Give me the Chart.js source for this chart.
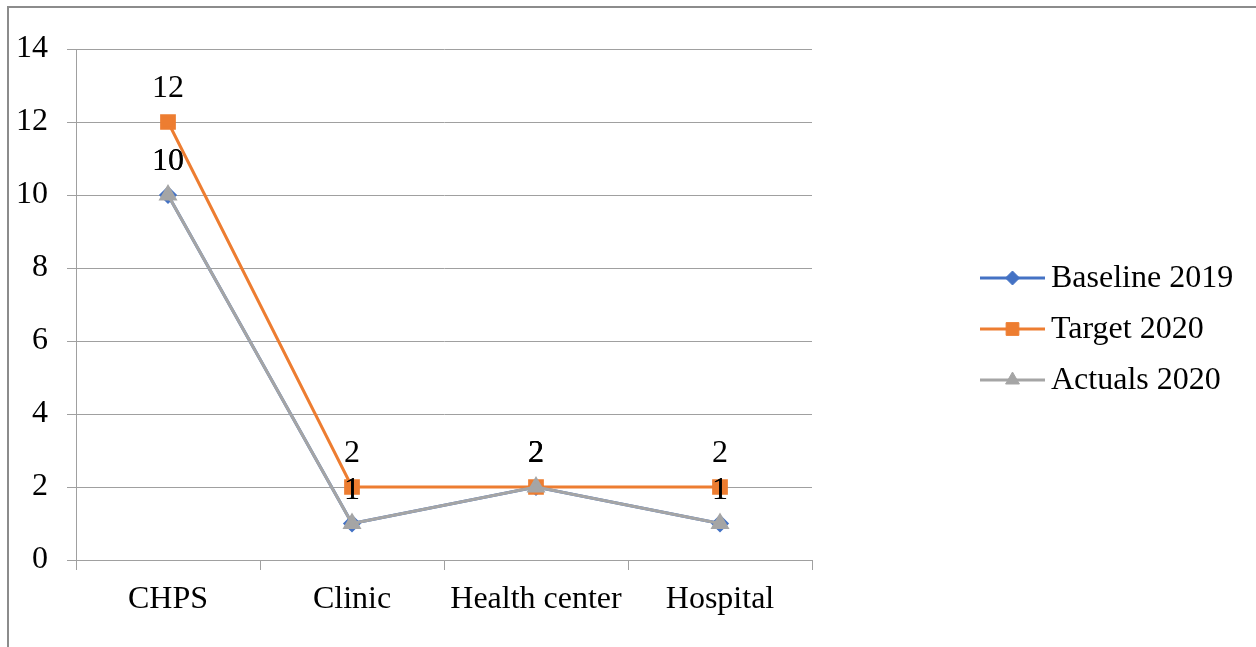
<!DOCTYPE html>
<html lang="en">
<head>
    <meta charset="UTF-8">
    <title>Health facilities</title>
    <script src="https://cdn.jsdelivr.net/npm/chart.js"></script>
    <style>
        body { margin: 0; background: #fff; overflow: hidden; }
        #frame { position: absolute; left: 7px; top: 6px; width: 1400px; height: 800px; border: 2px solid #8c8c8c; }
        #wrap { position: absolute; left: 0; top: 0; width: 1256px; height: 647px; }
    </style>
</head>
<body>
    <div id="frame"></div>
    <div id="wrap"><canvas id="lineChart"></canvas></div>

    <script>
        const categories = ['CHPS', 'Clinic', 'Health center', 'Hospital'];
        const baseline2019 = [10, 1, 2, 1];
        const target2020 = [12, 2, 2, 2];
        const actuals2020 = [10, 1, 2, 1];
        const yTicks = [0, 2, 4, 6, 8, 10, 12, 14];

        const FONT = 'Liberation Serif, Times New Roman, serif';
        const FSIZE = 32;

        // values written above every point
        const pointLabels = {
            id: 'pointLabels',
            afterDatasetsDraw(chart) {
                const ctx = chart.ctx;
                ctx.save();
                ctx.font = FSIZE + 'px ' + FONT;
                ctx.fillStyle = '#000';
                ctx.textAlign = 'center';
                ctx.textBaseline = 'middle';
                chart.data.datasets.forEach((ds, i) => {
                    chart.getDatasetMeta(i).data.forEach((pt, j) => {
                        ctx.fillText(String(ds.data[j]), pt.x, pt.y - 33);
                    });
                });
                ctx.restore();
            }
        };

        // legend on the right with line + marker samples
        const sideLegend = {
            id: 'sideLegend',
            afterDraw(chart) {
                const ctx = chart.ctx;
                const x0 = 980, x1 = 1045;
                let y = 278;
                ctx.save();
                chart.data.datasets.forEach(ds => {
                    ctx.strokeStyle = ds.borderColor;
                    ctx.lineWidth = 3;
                    ctx.beginPath();
                    ctx.moveTo(x0, y);
                    ctx.lineTo(x1, y);
                    ctx.stroke();
                    ctx.fillStyle = ds.pointBackgroundColor;
                    ctx.strokeStyle = ds.pointBorderColor;
                    ctx.lineWidth = 1;
                    Chart.helpers.drawPoint(ctx, { pointStyle: ds.pointStyle, radius: ds.pointRadius, borderWidth: 1 }, (x0 + x1) / 2, y);
                    ctx.fillStyle = '#000';
                    ctx.font = FSIZE + 'px ' + FONT;
                    ctx.textAlign = 'left';
                    ctx.textBaseline = 'middle';
                    ctx.fillText(ds.label, 1051, y + 1);
                    y += 51;
                });
                ctx.restore();
            }
        };

        function series(label, data, color, style, radius, order) {
            return {
                label: label,
                data: data,
                order: order,
                borderColor: color,
                backgroundColor: color,
                pointBackgroundColor: color,
                pointBorderColor: color,
                borderWidth: 3,
                pointStyle: style,
                pointRadius: radius,
                pointHoverRadius: radius,
                tension: 0
            };
        }

        new Chart(document.getElementById('lineChart'), {
            type: 'line',
            data: {
                labels: categories,
                datasets: [
                    series('Baseline 2019', baseline2019, '#4472C4', 'rectRot', 7, 2),
                    series('Target 2020', target2020, '#ED7D31', 'rect', 9, 1),
                    series('Actuals 2020', actuals2020, '#A5A5A5', 'triangle', 8, 0)
                ]
            },
            options: {
                responsive: true,
                maintainAspectRatio: false,
                animation: false,
                layout: { padding: { left: 0, top: 49, right: 444, bottom: 0 } },
                plugins: {
                    legend: { display: false },
                    tooltip: { enabled: false }
                },
                scales: {
                    x: {
                        offset: true,
                        afterFit(scale) { scale.height = 87; },
                        grid: { drawOnChartArea: false, offset: true, color: '#a0a0a0', tickLength: 10 },
                        border: { color: '#a0a0a0', width: 1 },
                        ticks: { color: '#000', font: { family: FONT, size: FSIZE }, padding: 10 }
                    },
                    y: {
                        min: 0,
                        max: 14,
                        afterFit(scale) { scale.width = 76; },
                        afterBuildTicks(scale) { scale.ticks = yTicks.map(v => ({ value: v })); },
                        grid: { color: '#a0a0a0', tickLength: 9 },
                        border: { color: '#a0a0a0', width: 1 },
                        ticks: { color: '#000', font: { family: FONT, size: FSIZE }, padding: 19 }
                    }
                }
            },
            plugins: [pointLabels, sideLegend]
        });
    </script>
</body>
</html>
